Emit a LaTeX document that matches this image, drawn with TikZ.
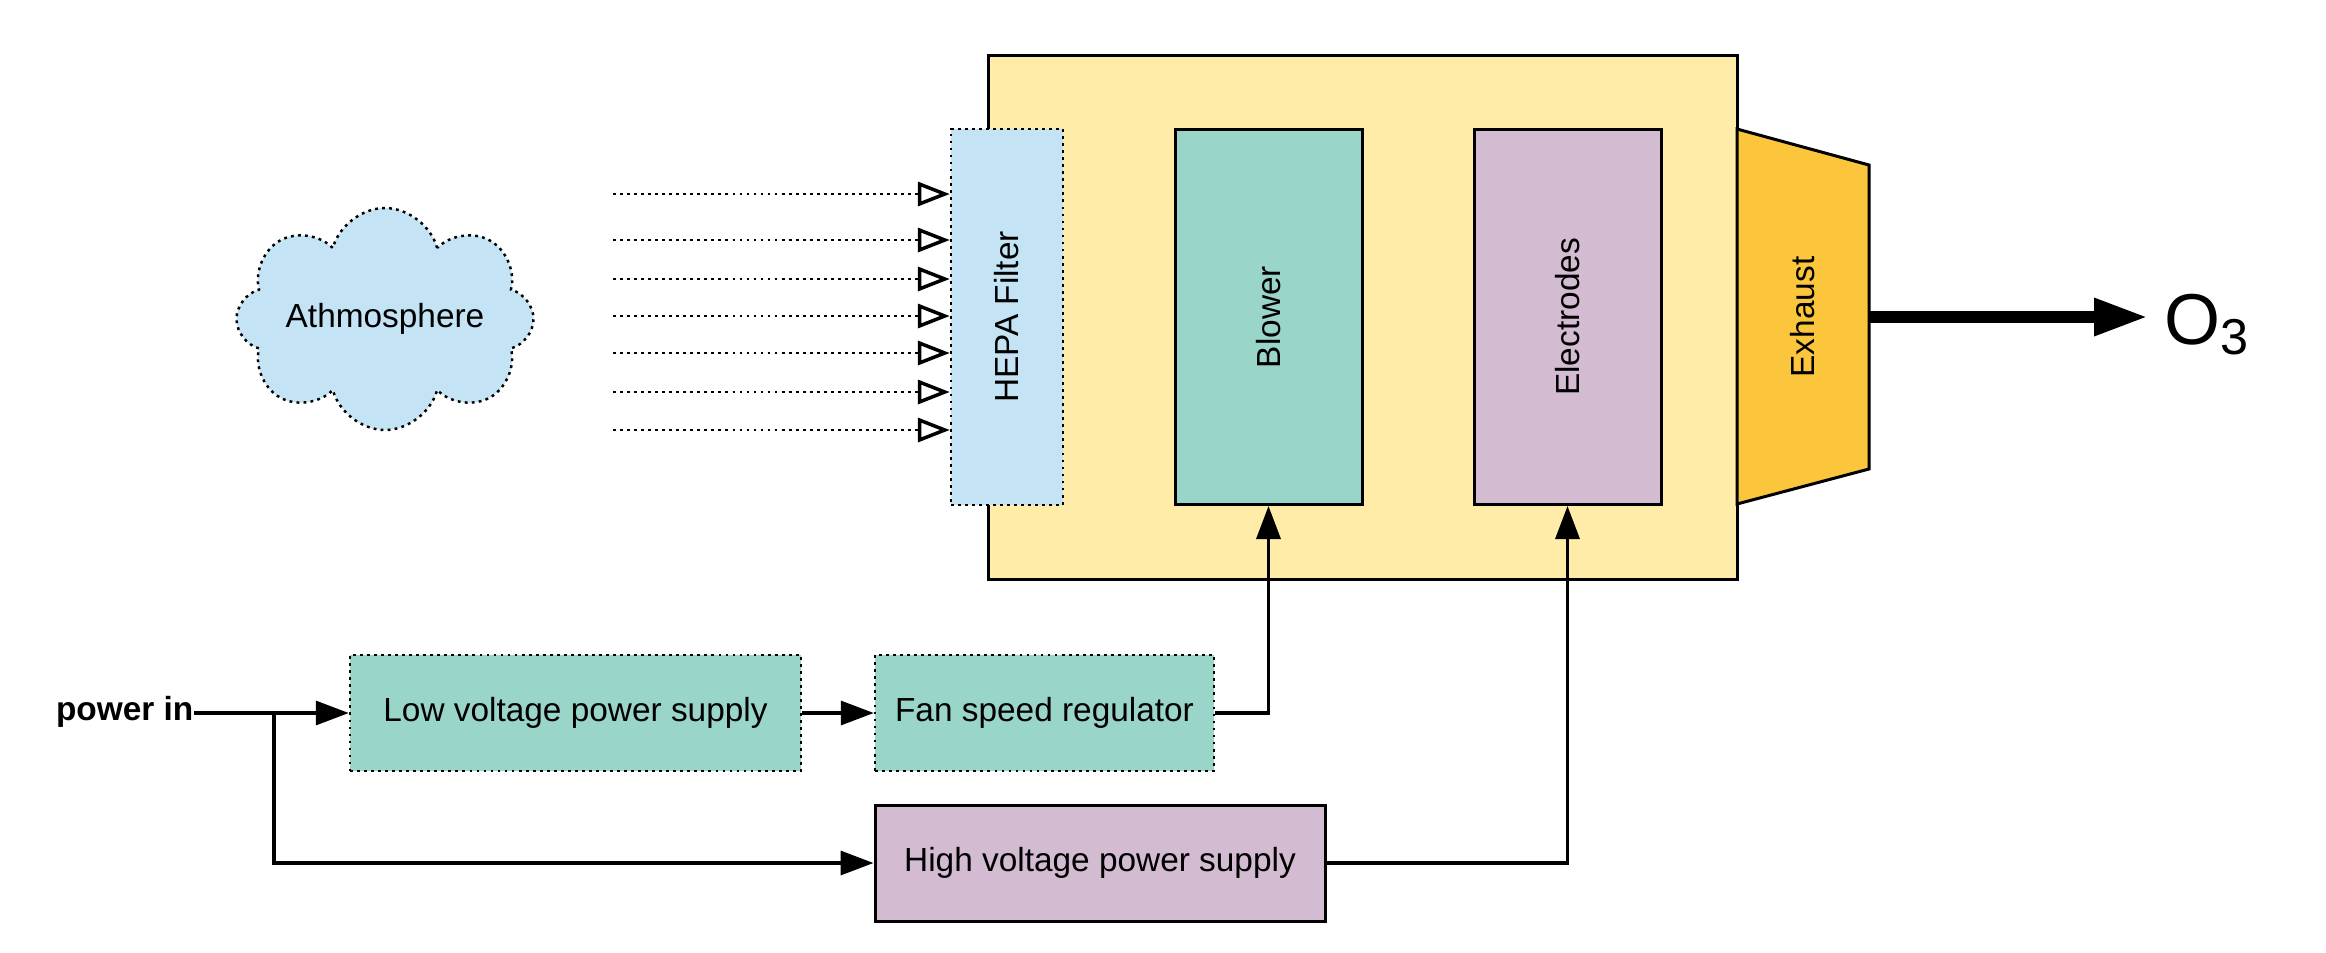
\documentclass[tikz,border=0pt]{standalone}
\usepackage{fontspec}
\setmainfont{Liberation Sans}
\usepackage{xcolor}
\usepackage{tikz}
\usetikzlibrary{arrows.meta,positioning,calc}
\usetikzlibrary{shapes.symbols}

\definecolor{casing}{HTML}{FFECA8}
\definecolor{filterblue}{HTML}{C4E4F5}
\definecolor{fanteal}{HTML}{9AD5CA}
\definecolor{hvmauve}{HTML}{D3BBD1}
\definecolor{exhaustgold}{HTML}{FBC63B}

\tikzset{
	lbl/.style={font=\fontsize{9.5}{11}\selectfont},
	solidbox/.style={draw=black,line width=0.85pt,lbl},
	dotbox/.style={draw=black,line width=0.7pt,dash pattern=on 0.8pt off 1.2pt,lbl},
	unit/.style={solidbox,minimum width=1.87cm,minimum height=3.75cm},
	supply/.style={minimum height=1.16cm,inner sep=0},
	conn/.style={line width=0.95pt,-{Triangle[length=0.33cm,width=0.24cm]}},
	airflow/.style={line width=0.75pt,dash pattern=on 0.8pt off 1.2pt,-{Triangle[open,length=0.32cm,width=0.24cm,line width=1pt]}}
}

\begin{document}
\begin{tikzpicture}
		\useasboundingbox (0,0) rectangle (23.26,-9.52);
		% ozone generator casing
		\node[solidbox,fill=casing,minimum width=7.49cm,minimum height=5.24cm] (casing) at (13.625,-3.17) {};
		\node[dotbox,fill=filterblue,minimum width=1.12cm,minimum height=3.76cm] (hepa) at (10.07,-3.17) {\rotatebox{90}{HEPA Filter}};
		\node[unit,fill=fanteal] (blower) at (12.685,-3.17) {\rotatebox{90}{Blower}};
		\node[unit,fill=hvmauve] (electrodes) at (15.675,-3.17) {\rotatebox{90}{Electrodes}};
		\draw[line width=0.85pt,fill=exhaustgold] (17.37,-1.29) -- (18.69,-1.65) -- (18.69,-4.69) -- (17.37,-5.04) -- cycle;
		\node[lbl,minimum width=1.32cm,minimum height=3.04cm,inner sep=0] (exhaust) at (18.03,-3.17) {\rotatebox{90}{Exhaust}};
		\node[anchor=base west,font=\fontsize{20.5}{24}\selectfont,inner xsep=1.6mm,inner ysep=0] (o3) at (21.48,-3.44) {O\textsubscript{3}};
		\draw[line width=3.4pt,-{Triangle[length=0.54cm,width=0.35cm]}] (exhaust.east) -- (exhaust.east -| o3.west);
		% air intake
		\node[cloud,cloud puffs=8,aspect=1.33,dotbox,fill=filterblue,minimum width=2.97cm,minimum height=2.22cm,inner sep=0,
			label={[lbl]center:Athmosphere}] (atmo) at (3.85,-3.19) {};
		\foreach \y in {1.94,2.40,2.79,3.16,3.53,3.92,4.30}
			\draw[airflow] (6.13,-\y) -- (hepa.west |- 0,-\y);
		% power side
		\node[anchor=east,inner sep=0,font=\fontsize{9.5}{11}\bfseries] (pin) at (1.94,-7.12) {power in};
		\node[dotbox,supply,fill=fanteal,minimum width=4.51cm] (lvps) at (5.755,-7.13) {Low voltage power supply};
		\node[dotbox,supply,fill=fanteal,minimum width=3.39cm] (fsr) at (10.445,-7.13) {Fan speed regulator};
		\node[solidbox,supply,fill=hvmauve,minimum width=4.5cm] (hvps) at (11.0,-8.63) {High voltage power supply};
		\coordinate (split) at (2.74,-7.13);
		\draw[conn] (pin.east |- lvps.west) -- (lvps.west);
		\draw[conn] (lvps) -- (fsr);
		\draw[conn] (fsr.east) -| (blower.south);
		\draw[conn] (split) |- (hvps.west);
		\draw[conn] (hvps.east) -| (electrodes.south);
	\end{tikzpicture}
\end{document}
